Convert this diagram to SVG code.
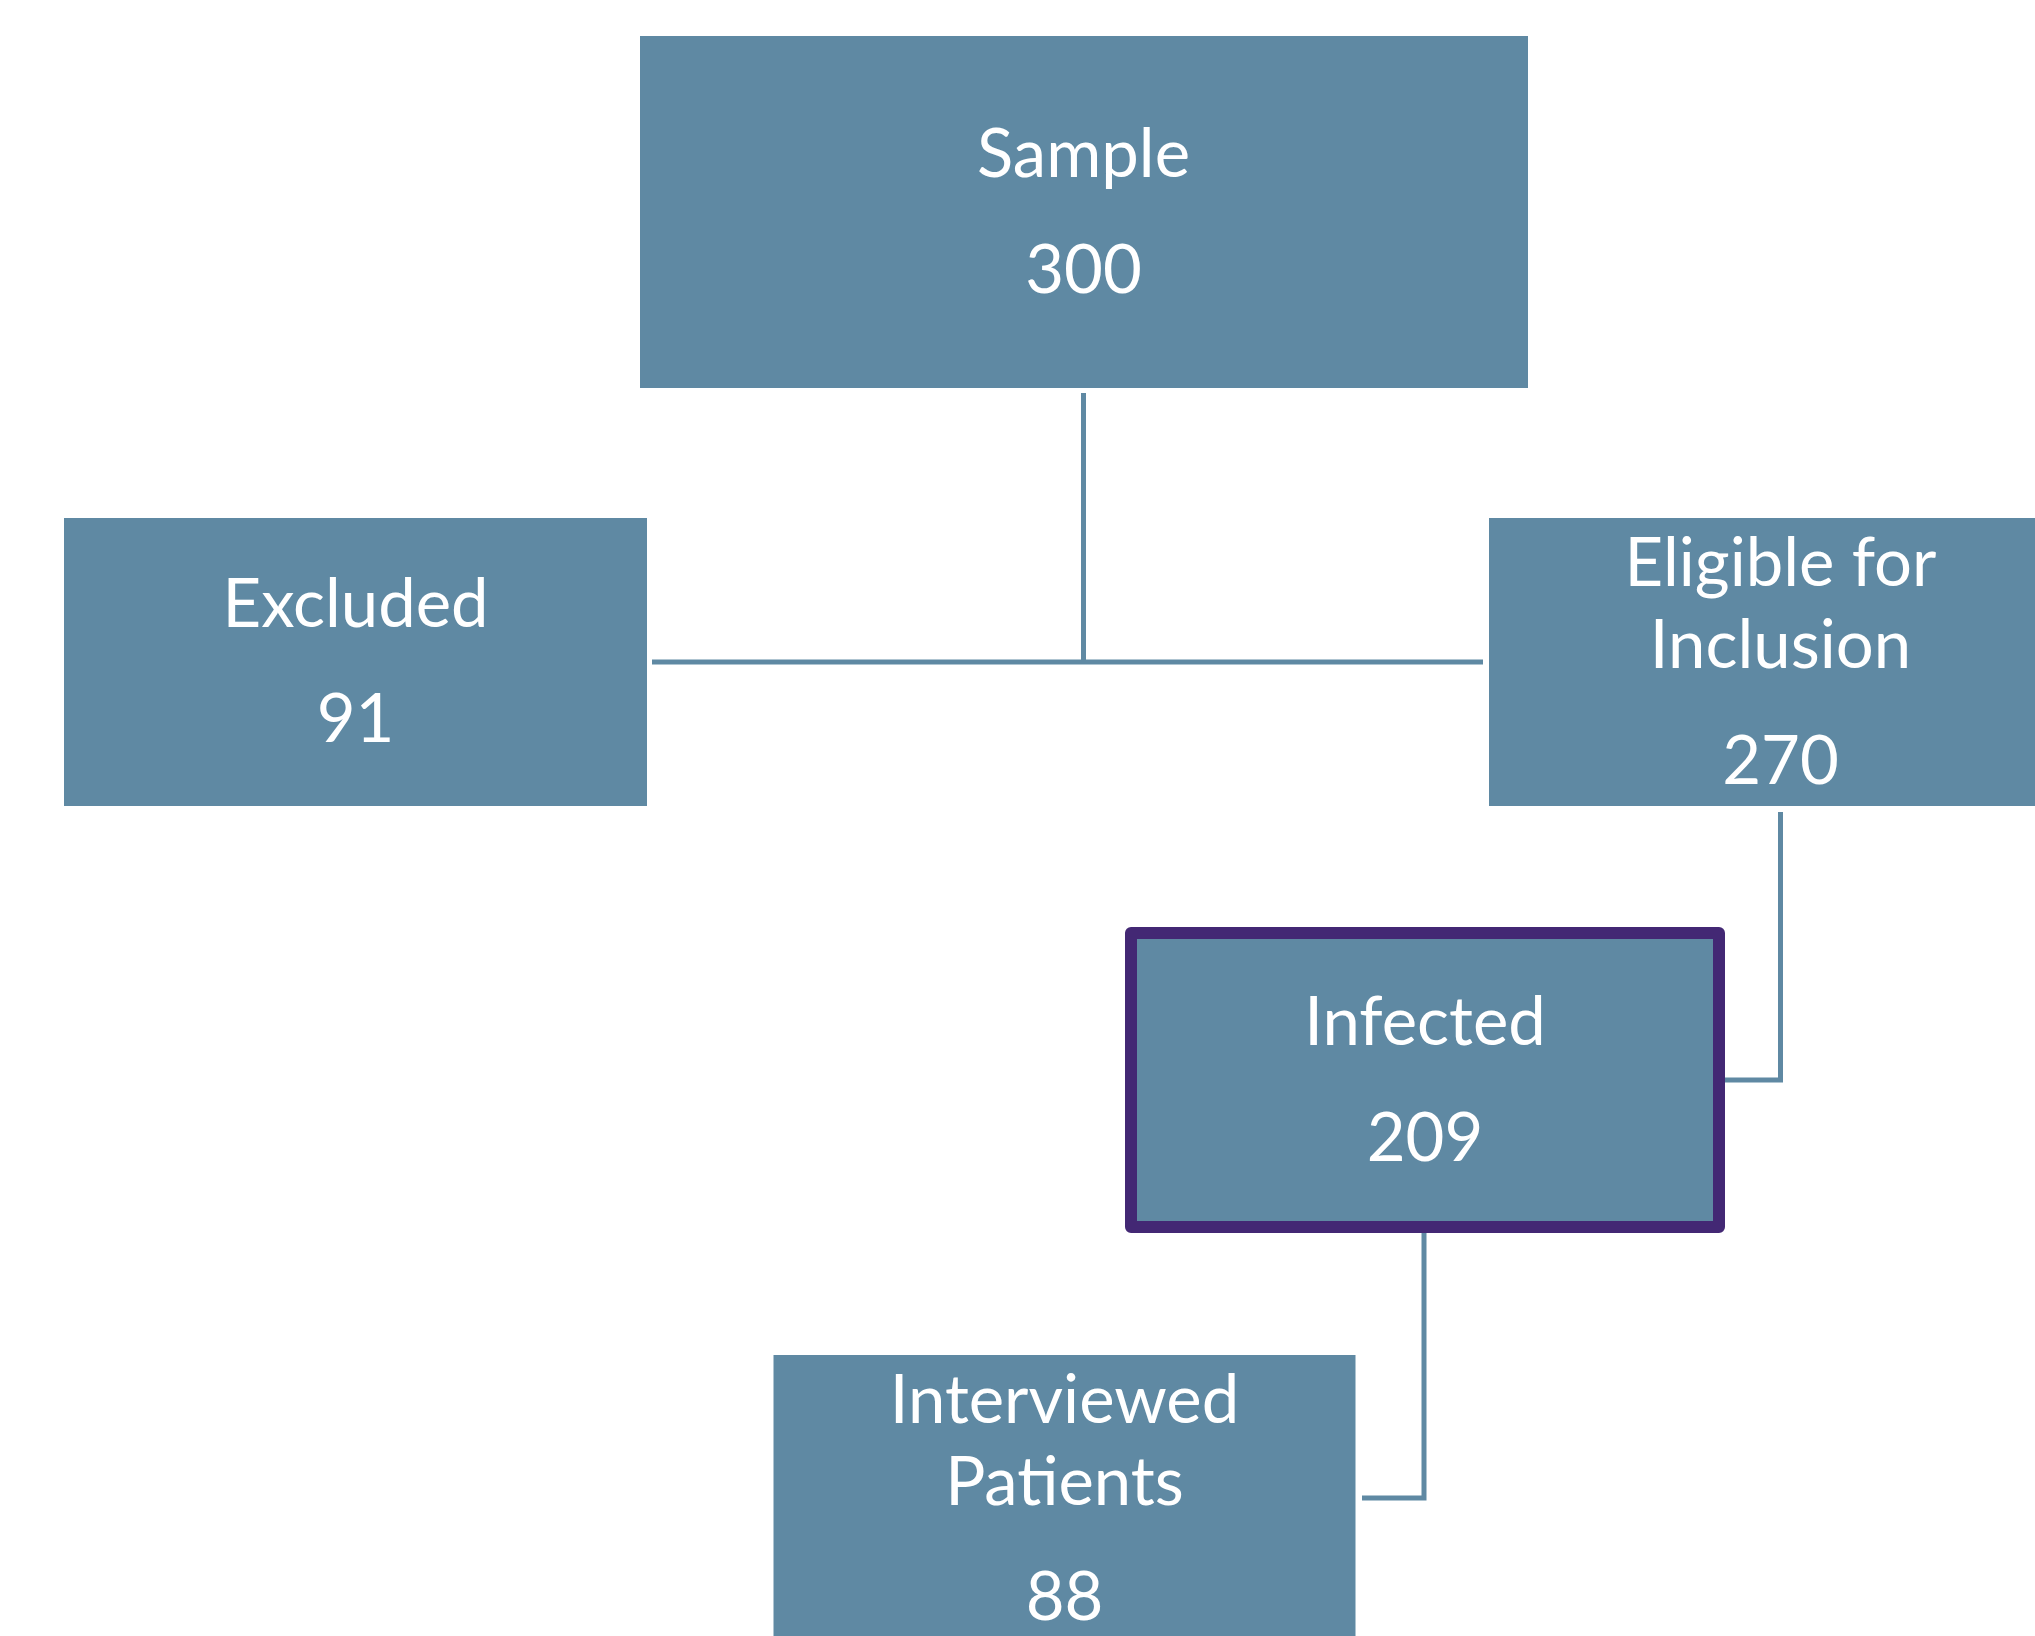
<svg xmlns="http://www.w3.org/2000/svg" width="2035" height="1636" viewBox="0 0 2035 1636">
<style>
.box{fill:#5F89A3;}
.hl{fill:#5F89A3;stroke:#432874;stroke-width:12;stroke-linejoin:round;}
.t{font-family:Lato,"Open Sans",sans-serif;font-size:67px;fill:#FFFFFF;text-anchor:middle;}
.c{fill:none;stroke:#5F89A3;stroke-width:5;}
</style>
<rect width="2035" height="1636" fill="#FFFFFF"/>
<g id="connectors">
<path class="c" d="M1083.5 393 V662"/>
<path class="c" d="M652 662 H1483"/>
<path class="c" d="M1780.5 812 V1080 H1725"/>
<path class="c" d="M1424 1233 V1498 H1362"/>
</g>
<g id="sample">
<rect class="box" x="640" y="36" width="888" height="352"/>
<text class="t" x="1083.5" y="177">Sample</text>
<text class="t" x="1083.5" y="293">300</text>
</g>
<g id="excluded">
<rect class="box" x="64" y="518" width="583" height="288"/>
<text class="t" x="355.5" y="627">Excluded</text>
<text class="t" x="355.5" y="742">91</text>
</g>
<g id="eligible">
<rect class="box" x="1489" y="518" width="583" height="288"/>
<text class="t" x="1780.5" y="586">Eligible for</text>
<text class="t" x="1780.5" y="668">Inclusion</text>
<text class="t" x="1780.5" y="784">270</text>
</g>
<g id="infected">
<rect class="hl" x="1131" y="933" width="588" height="294"/>
<text class="t" x="1425" y="1045">Infected</text>
<text class="t" x="1425" y="1161">209</text>
</g>
<g id="interviewed">
<rect class="box" x="773.5" y="1355" width="582" height="290"/>
<text class="t" x="1064.5" y="1423">Interviewed</text>
<text class="t" x="1064.5" y="1505">Patients</text>
<text class="t" x="1064.5" y="1620">88</text>
</g>
</svg>
